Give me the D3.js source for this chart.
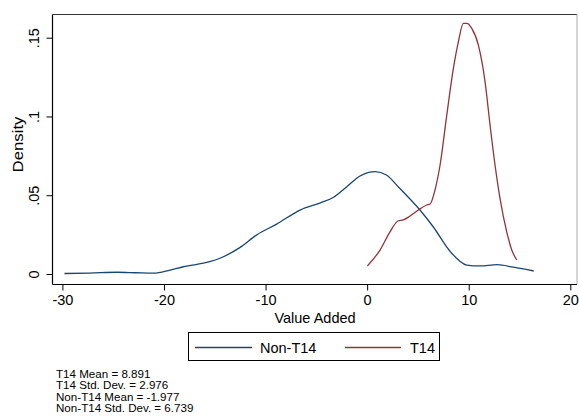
<!DOCTYPE html>
<html>
<head>
<meta charset="utf-8">
<script src="https://cdn.jsdelivr.net/npm/d3@7"></script>
<style>
  html, body { margin: 0; padding: 0; background: #fff; }
  svg { display: block; font-family: "Liberation Sans", Arial, Helvetica, sans-serif; }
</style>
</head>
<body>
<svg id="chart" width="579" height="416"></svg>
<script>
// Kernel density estimates of value added, by group
const nonT14X = [-29.8, -27.3, -24.6, -22.8, -21.0, -19.4, -18.1, -15.5, -14.5, -12.5, -10.9, -8.9, -6.6, -4.6, -3.3, -2.0, -0.7, 0.8, 1.9, 3.2, 5.2, 6.5, 8.2, 9.8, 11.1, 12.8, 14.4, 16.4];
const nonT14Y = [0.0003, 0.0006, 0.0011, 0.0008, 0.0005, 0.0025, 0.0046, 0.0078, 0.0100, 0.0169, 0.0247, 0.0317, 0.0406, 0.0452, 0.0487, 0.0554, 0.0622, 0.0650, 0.0628, 0.0544, 0.0406, 0.0300, 0.0141, 0.0057, 0.0051, 0.0059, 0.0043, 0.0019];

const t14X = [0.02, 1.27, 2.25, 3.07, 3.56, 4.22, 5.04, 5.87, 6.19, 6.68, 7.18, 7.84, 8.49, 8.98, 9.47, 9.81, 10.30, 10.95, 11.61, 12.10, 12.59, 13.08, 13.74, 14.24, 14.73];
const t14Y = [0.0051, 0.0152, 0.0268, 0.0338, 0.0343, 0.0368, 0.0406, 0.0438, 0.0444, 0.0533, 0.0692, 0.1009, 0.1305, 0.1474, 0.1591, 0.1591, 0.1559, 0.1453, 0.1220, 0.0946, 0.0692, 0.0480, 0.0268, 0.0152, 0.0089];

const xTicks = [-30, -20, -10, 0, 10, 20];
const xTickLabels = ["-30", "-20", "-10", "0", "10", "20"];
const yTicks = [0, 0.05, 0.1, 0.15];
const yTickLabels = ["0", ".05", ".1", ".15"];

const seriesNames = ["Non-T14", "T14"];
const seriesColors = ["#1a476f", "#90353b"];

const notes = [
  "T14 Mean = 8.891",
  "T14 Std. Dev. = 2.976",
  "Non-T14 Mean = -1.977",
  "Non-T14 Std. Dev. = 6.739"
];

const svg = d3.select("#chart");

// plot region
const box = { left: 52.5, right: 577, top: 14.5, bottom: 284.5 };

const x = d3.scaleLinear().domain([-30, 20]).range([62.4, 570.3]);
const y = d3.scaleLinear().domain([0, 0.15]).range([274, 37.7]);

// frame: top and right edges
svg.append("line").attr("x1", box.left).attr("x2", box.right)
  .attr("y1", box.top).attr("y2", box.top)
  .attr("stroke", "#333").attr("stroke-width", 1);
svg.append("line").attr("x1", box.right).attr("x2", box.right)
  .attr("y1", box.top).attr("y2", box.bottom)
  .attr("stroke", "#aaa").attr("stroke-width", 1);

// y axis
const yAxis = d3.axisLeft(y).tickValues(yTicks)
  .tickFormat((d, i) => yTickLabels[i]).tickSize(6).tickSizeOuter(0);
const gy = svg.append("g").attr("transform", `translate(${box.left},0)`).call(yAxis);
gy.select(".domain").remove();
gy.append("line").attr("x1", 0).attr("x2", 0).attr("y1", box.top).attr("y2", box.bottom)
  .attr("stroke", "#000").attr("stroke-width", 1.2);
gy.selectAll(".tick line").attr("stroke", "#000").attr("stroke-width", 1);
gy.selectAll(".tick text")
  .attr("font-size", "14.5px").attr("fill", "#000")
  .attr("text-anchor", "middle")
  .attr("x", 0).attr("dy", 0)
  .attr("transform", "translate(-13.5,0) rotate(-90)");

// x axis
const xAxis = d3.axisBottom(x).tickValues(xTicks)
  .tickFormat((d, i) => xTickLabels[i]).tickSize(6).tickSizeOuter(0);
const gx = svg.append("g").attr("transform", `translate(0,${box.bottom})`).call(xAxis);
gx.select(".domain").remove();
gx.append("line").attr("x1", box.left).attr("x2", box.right).attr("y1", 0).attr("y2", 0)
  .attr("stroke", "#000").attr("stroke-width", 1.2);
gx.selectAll(".tick line").attr("stroke", "#000").attr("stroke-width", 1);
gx.selectAll(".tick text")
  .attr("font-size", "14.5px").attr("fill", "#000")
  .attr("y", 20).attr("dy", 0);

// axis titles
svg.append("text").attr("x", 315).attr("y", 323.3)
  .attr("text-anchor", "middle").attr("font-size", "14.5px").text("Value Added");
svg.append("text")
  .attr("transform", "translate(22.5,144.5) rotate(-90)")
  .attr("text-anchor", "middle").attr("font-size", "14.5px")
  .attr("textLength", 56).attr("lengthAdjust", "spacingAndGlyphs")
  .text("Density");

// density curves
const line = d3.line()
  .x(d => x(d[0])).y(d => y(d[1]))
  .curve(d3.curveMonotoneX);

const series = [
  d3.zip(nonT14X, nonT14Y),
  d3.zip(t14X, t14Y)
];

svg.append("g").selectAll("path").data(series).join("path")
  .attr("d", line)
  .attr("fill", "none")
  .attr("stroke", (d, i) => seriesColors[i])
  .attr("stroke-width", 1.3)
  .attr("stroke-linejoin", "round");

// legend
const legend = svg.append("g");
legend.append("rect").attr("x", 188.5).attr("y", 332.5).attr("width", 251).attr("height", 28)
  .attr("fill", "#fff").attr("stroke", "#000").attr("stroke-width", 1);
const legendItems = [
  { x1: 195, x2: 252, tx: 260 },
  { x1: 345, x2: 401, tx: 410 }
];
legendItems.forEach((it, i) => {
  legend.append("line").attr("x1", it.x1).attr("x2", it.x2)
    .attr("y1", 347.5).attr("y2", 347.5)
    .attr("stroke", seriesColors[i]).attr("stroke-width", 1.3);
  legend.append("text").attr("x", it.tx).attr("y", 352.5)
    .attr("font-size", "14.5px").text(seriesNames[i]);
});

// summary notes
svg.append("g").selectAll("text").data(notes).join("text")
  .attr("x", 56).attr("y", (d, i) => 377.5 + i * 11.5)
  .attr("font-size", "11.6px").text(d => d);
</script>
</body>
</html>
